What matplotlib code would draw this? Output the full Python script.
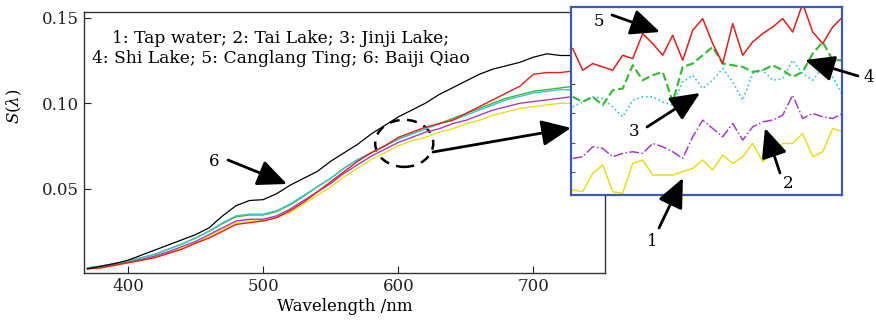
import matplotlib.pyplot as plt
from matplotlib.patches import Ellipse, FancyArrowPatch

plt.rcParams['font.family'] = ['DejaVu Serif']
plt.rcParams['mathtext.fontset'] = 'dejavuserif'

# main spectra, read every 10 nm
wavelength = list(range(370, 740, 10))
tap_water = [0.003, 0.0035, 0.005, 0.0065, 0.008, 0.010, 0.0125, 0.015, 0.018, 0.022,
             0.026, 0.030, 0.031, 0.031, 0.033, 0.036, 0.041, 0.046, 0.051, 0.057,
             0.062, 0.067, 0.071, 0.075, 0.078, 0.080, 0.083, 0.085, 0.088, 0.090,
             0.093, 0.095, 0.097, 0.098, 0.099, 0.100, 0.100]
tai_lake = [0.003, 0.004, 0.0055, 0.007, 0.0085, 0.0105, 0.013, 0.016, 0.019, 0.023,
            0.027, 0.031, 0.032, 0.032, 0.034, 0.038, 0.043, 0.048, 0.053, 0.059,
            0.064, 0.069, 0.073, 0.077, 0.080, 0.083, 0.085, 0.088, 0.090, 0.093,
            0.096, 0.098, 0.100, 0.101, 0.102, 0.103, 0.104]
jinji_lake = [0.0035, 0.0045, 0.006, 0.0075, 0.0095, 0.0115, 0.0145, 0.0175, 0.021, 0.025,
              0.030, 0.034, 0.035, 0.035, 0.037, 0.041, 0.046, 0.051, 0.056, 0.062,
              0.067, 0.071, 0.075, 0.079, 0.082, 0.085, 0.088, 0.090, 0.093, 0.096,
              0.099, 0.102, 0.104, 0.106, 0.107, 0.108, 0.108]
shi_lake = [0.0035, 0.0045, 0.006, 0.0075, 0.0095, 0.0115, 0.0145, 0.0175, 0.021, 0.025,
            0.0295, 0.0335, 0.0345, 0.0345, 0.0365, 0.0405, 0.0455, 0.051, 0.056, 0.062,
            0.067, 0.071, 0.075, 0.079, 0.082, 0.085, 0.088, 0.091, 0.094, 0.097,
            0.100, 0.103, 0.105, 0.107, 0.108, 0.109, 0.110]
canglang_ting = [0.003, 0.0035, 0.005, 0.0065, 0.008, 0.0095, 0.012, 0.0145, 0.018, 0.021,
                 0.025, 0.029, 0.030, 0.031, 0.033, 0.037, 0.042, 0.048, 0.054, 0.060,
                 0.066, 0.071, 0.075, 0.080, 0.083, 0.086, 0.088, 0.090, 0.094, 0.098,
                 0.102, 0.106, 0.110, 0.117, 0.118, 0.118, 0.119]
baiji_qiao = [0.003, 0.0045, 0.006, 0.008, 0.011, 0.014, 0.017, 0.020, 0.023, 0.027,
              0.034, 0.040, 0.043, 0.0435, 0.047, 0.052, 0.056, 0.060, 0.066, 0.071,
              0.076, 0.082, 0.087, 0.092, 0.096, 0.100, 0.105, 0.109, 0.113, 0.117,
              0.120, 0.122, 0.124, 0.127, 0.129, 0.128, 0.128]

# zoomed detail (inset), about 592-619 nm
zoom_wl = list(range(592, 620))
zoom_5 = [0.0840, 0.0827, 0.0831, 0.0829, 0.0827, 0.0836, 0.0834, 0.0849, 0.0843, 0.0836,
          0.0848, 0.0833, 0.0851, 0.0858, 0.0843, 0.0831, 0.0855, 0.0836, 0.0844, 0.0849,
          0.0853, 0.0858, 0.0850, 0.0867, 0.0850, 0.0843, 0.0853, 0.0859]
zoom_4 = [0.0811, 0.0808, 0.0811, 0.0806, 0.0815, 0.0816, 0.0830, 0.0821, 0.0824, 0.0826,
          0.0808, 0.0829, 0.0831, 0.0836, 0.0841, 0.0831, 0.0830, 0.0829, 0.0826, 0.0827,
          0.0830, 0.0827, 0.0823, 0.0826, 0.0837, 0.0844, 0.0833, 0.0833]
zoom_3 = [0.0805, 0.0808, 0.0811, 0.0810, 0.0805, 0.0799, 0.0809, 0.0811, 0.0811, 0.0808,
          0.0806, 0.0820, 0.0824, 0.0816, 0.0821, 0.0828, 0.0820, 0.0809, 0.0825, 0.0827,
          0.0821, 0.0822, 0.0833, 0.0825, 0.0821, 0.0829, 0.0823, 0.0812]
zoom_2 = [0.0774, 0.0775, 0.0781, 0.0780, 0.0775, 0.0777, 0.0778, 0.0777, 0.0783, 0.0781,
          0.0778, 0.0774, 0.0787, 0.0797, 0.0792, 0.0787, 0.0795, 0.0785, 0.0793, 0.0796,
          0.0797, 0.0800, 0.0812, 0.0798, 0.0801, 0.0799, 0.0798, 0.0801]
zoom_1 = [0.0755, 0.0754, 0.0765, 0.0770, 0.0754, 0.0753, 0.0771, 0.0773, 0.0764, 0.0764,
          0.0764, 0.0766, 0.0768, 0.0773, 0.0767, 0.0776, 0.0771, 0.0775, 0.0783, 0.0772,
          0.0778, 0.0783, 0.0783, 0.0789, 0.0775, 0.0778, 0.0792, 0.0790]

YELLOW = '#e6df1e'
MAGENTA = '#a83cc0'
CYAN = '#3cc4cc'
GREEN = '#3cb83c'
RED = '#e0201c'

W, H = 876, 328
fig = plt.figure(figsize=(W / 100, H / 100), dpi=100)
ax = fig.add_axes([84 / W, 1 - 273 / H, 521 / W, 261 / H])

ax.plot(wavelength, tap_water, color=YELLOW, lw=1.0)
ax.plot(wavelength, tai_lake, color=MAGENTA, lw=1.0)
ax.plot(wavelength, shi_lake, color=GREEN, lw=1.0)
ax.plot(wavelength, jinji_lake, color=CYAN, lw=1.0)
ax.plot(wavelength, canglang_ting, color=RED, lw=1.0)
ax.plot(wavelength, baiji_qiao, color='black', lw=0.9)

ax.set_xlim(367.4, 753)
ax.set_ylim(0.0005, 0.1535)
ax.set_xticks([400, 500, 600, 700])
ax.set_yticks([0.05, 0.10, 0.15])
ax.set_yticklabels(['0.05', '0.10', '0.15'])
ax.tick_params(direction='in', length=5, labelsize=12, colors='#222222')
for s in ax.spines.values():
    s.set_linewidth(1.0)
    s.set_color('#333333')
ax.set_xlabel('Wavelength /nm', fontsize=12, labelpad=2)
ax.set_ylabel(r'$S(\lambda)$', fontsize=12)
ax.yaxis.set_label_coords(-0.115, 0.64)

ax.text(0.377, 0.86, '1: Tap water; 2: Tai Lake; 3: Jinji Lake;\n4: Shi Lake; 5: Canglang Ting; 6: Baiji Qiao',
        transform=ax.transAxes, ha='center', va='center', fontsize=12.3, linespacing=1.3)

ax.add_patch(Ellipse((604.4, 0.0765), 43, 0.0276, fill=False, ls=(0, (4, 3)), lw=1.8, color='black'))


def fpx(x, y):
    return (x / W, 1 - y / H)


def arrow(tail, head):
    fig.add_artist(FancyArrowPatch(fpx(*tail), fpx(*head), transform=fig.transFigure,
                                   arrowstyle='-|>,head_length=0.9,head_width=0.4',
                                   mutation_scale=20, lw=2, color='black', zorder=10,
                                   shrinkA=0, shrinkB=0))


# inset
axin = fig.add_axes([571 / W, 1 - 195 / H, 271 / W, 188 / H])
axin.plot(zoom_wl, zoom_1, color=YELLOW, lw=1.1)
axin.plot(zoom_wl, zoom_2, color=MAGENTA, lw=1.1, ls='-.')
axin.plot(zoom_wl, zoom_3, color=CYAN, lw=1.2, ls=':')
axin.plot(zoom_wl, zoom_4, color=GREEN, lw=1.6, ls='--')
axin.plot(zoom_wl, zoom_5, color=RED, lw=1.1)
axin.set_xlim(591.83, 618.93)
axin.set_ylim(0.0752, 0.0865)
axin.set_xticks([])
axin.set_yticks([0.0766, 0.0783, 0.0801, 0.0819])
axin.tick_params(direction='in', length=3, labelleft=False, colors='#555555')
for s in axin.spines.values():
    s.set_linewidth(1.6)
    s.set_color('#3a5cb4')
axin.set_zorder(5)

arrow((433, 152), (571, 128))
arrow((228, 160), (287, 184))
arrow((612, 15), (660, 32))
arrow((858, 76), (805, 60))
arrow((647, 127), (700, 93))
arrow((780, 173), (765, 128))
arrow((659, 228), (683, 178))

for label, x, y in [('6', 214, 161), ('5', 599, 21), ('4', 869, 78), ('3', 634, 131),
                    ('2', 788, 183), ('1', 652, 242)]:
    fig.text(*fpx(x, y), label, ha='center', va='center', fontsize=12, zorder=11)

fig.savefig('out.png', dpi=100)
